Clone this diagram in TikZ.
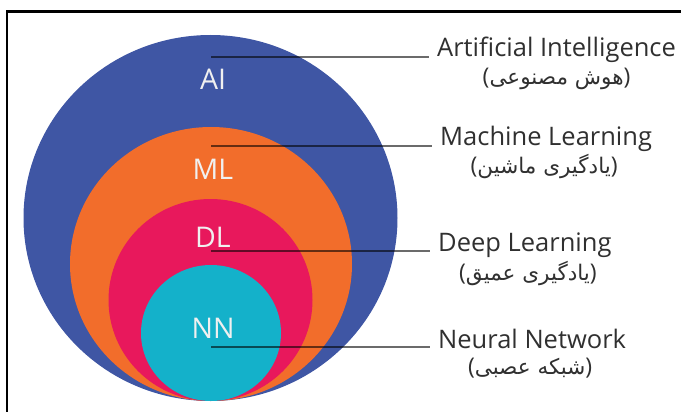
\documentclass[tikz,border=0pt]{standalone}
\usepackage{fontspec}
\setmainfont{Open Sans}
\newfontfamily\labelfont{Open Sans}
\newfontfamily\arabicfont[Script=Arabic]{DejaVu Sans}
\TeXXeTstate=1
\usetikzlibrary{shapes.geometric,calc}

\definecolor{aiblue}{HTML}{3F56A4}
\definecolor{mlorange}{HTML}{F26D2B}
\definecolor{dlcrimson}{HTML}{E8185C}
\definecolor{nncyan}{HTML}{14B1CA}
\definecolor{labelgray}{HTML}{303030}

% Persian gloss in parentheses; the parentheses are set in the Latin face
\newcommand{\faGloss}[1]{\hbox{\labelfont\fontsize{23}{26}\selectfont(}\hbox{\beginR #1\endR}\hbox{\labelfont\fontsize{23}{26}\selectfont)}}

\begin{document}
\begin{tikzpicture}[x=1pt,y=-1pt,
  region/.style={ellipse, inner sep=0pt, draw=none},
  tag/.style={text=white!94!black, inner sep=0pt,
    font=\labelfont\fontsize{28.5}{30}\selectfont},
  term/.style={anchor=base west, inner sep=0pt, text=labelgray,
    font=\labelfont\fontsize{25.5}{28}\selectfont},
  gloss/.style={inner sep=0pt, text=labelgray,
    font=\arabicfont\fontsize{21.5}{24}\selectfont},
  leader/.style={draw=black, draw opacity=0.58, line width=1.2pt, shorten >=8pt},
  frameline/.style={draw=black, line width=2.5pt}
]
\useasboundingbox (0,0) rectangle (681,412);

% outer frame (left and top edges)
\draw[frameline] (7,412) -- (7,11.5) -- (681,11.5);

% nested regions
\node[region, fill=aiblue,    minimum width=374pt, minimum height=366pt] (ai) at (210.5,218) {};
\node[region, fill=mlorange,  minimum width=282pt, minimum height=274pt] (ml) at (211,264) {};
\node[region, fill=dlcrimson, minimum width=204pt, minimum height=202pt] (dl) at (210.5,300) {};
\node[region, fill=nncyan,    minimum width=140pt, minimum height=136pt] (nn) at (211,333) {};

% region tags
\node[tag] (aiTag) at (213,79)  {AI};
\node[tag] (mlTag) at (213,169) {ML};
\node[tag] (dlTag) at (213,237) {DL};
\node[tag] (nnTag) at (213,328) {NN};

% terms on the right
\node[term] (aiTerm) at (437,57)  {Artificial Intelligence};
\node[term] (mlTerm) at (440,146) {Machine Learning};
\node[term] (dlTerm) at (438,251) {Deep Learning};
\node[term] (nnTerm) at (438,348) {Neural Network};

% Persian glosses
\node[gloss] (aiGloss) at ($(aiTerm.base)+(0,22)$) {\faGloss{هوش مصنوعی}};
\node[gloss] (mlGloss) at ($(mlTerm.base)+(-2,20)$) {\faGloss{یادگیری ماشین}};
\node[gloss] (dlGloss) at ($(dlTerm.base)+(3,22)$) {\faGloss{یادگیری عمیق}};
\node[gloss] (nnGloss) at ($(nnTerm.base)+(-2,20)$) {\faGloss{شبکه عصبی}};

% leader lines
\coordinate (aiPin) at (211,57);
\coordinate (mlPin) at (211,146);
\coordinate (dlPin) at (211,251);
\coordinate (nnPin) at (211,347);
\draw[leader] (aiPin) -- (aiPin -| aiTerm.west);
\draw[leader] (mlPin) -- (mlPin -| mlTerm.west);
\draw[leader] (dlPin) -- (dlPin -| dlTerm.west);
\draw[leader] (nnPin) -- (nnPin -| nnTerm.west);
\end{tikzpicture}
\end{document}
